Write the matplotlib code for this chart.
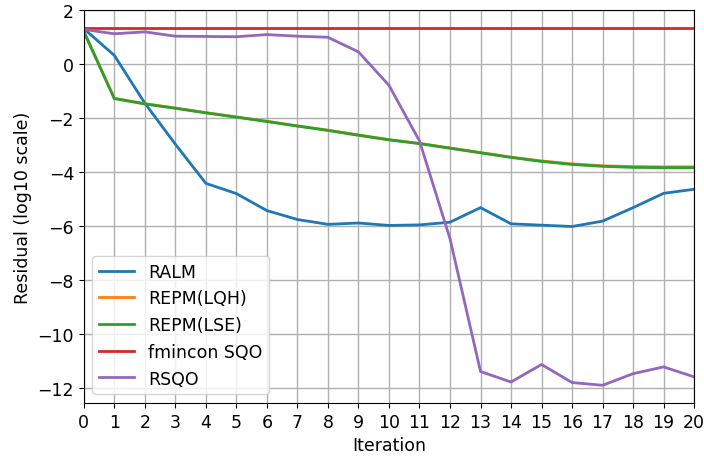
import matplotlib.pyplot as plt
import numpy as np

iterations = np.arange(21)

ralm = [1.30, 0.31, -1.46, -2.98, -4.43, -4.81, -5.44, -5.77, -5.95, -5.90,
        -5.99, -5.97, -5.87, -5.33, -5.93, -5.98, -6.03, -5.83, -5.33, -4.80, -4.65]
repm_lqh = [1.20, -1.28, -1.48, -1.64, -1.81, -1.97, -2.13, -2.30, -2.46, -2.64,
            -2.81, -2.95, -3.12, -3.29, -3.46, -3.60, -3.71, -3.78, -3.81, -3.82, -3.82]
repm_lse = [1.20, -1.29, -1.49, -1.65, -1.82, -1.98, -2.14, -2.31, -2.47, -2.65,
            -2.82, -2.96, -3.13, -3.30, -3.47, -3.62, -3.73, -3.80, -3.84, -3.85, -3.85]
fmincon_sqo = [1.34] * 21
rsqo = [1.27, 1.11, 1.18, 1.02, 1.01, 1.00, 1.08, 1.02, 0.98, 0.44,
        -0.80, -2.86, -6.48, -11.40, -11.79, -11.14, -11.81, -11.91, -11.48, -11.23, -11.60]

series = [
    ("RALM", ralm),
    ("REPM(LQH)", repm_lqh),
    ("REPM(LSE)", repm_lse),
    ("fmincon SQO", fmincon_sqo),
    ("RSQO", rsqo),
]

plt.rcParams["font.size"] = 12.5

fig, ax = plt.subplots(figsize=(7.04, 4.64), dpi=100)
for label, values in series:
    ax.plot(iterations, values, linewidth=2, label=label)

ax.set_xlim(0, 20)
ax.set_xticks(iterations)
ax.set_xlabel("Iteration")
ax.set_ylabel("Residual (log10 scale)")
ax.grid(True, color="#b0b0b0", linewidth=1)
ax.legend(loc="lower left")

fig.subplots_adjust(left=0.119, right=0.986, top=0.977, bottom=0.129)
fig.savefig("out.png", dpi=100)
plt.close(fig)
